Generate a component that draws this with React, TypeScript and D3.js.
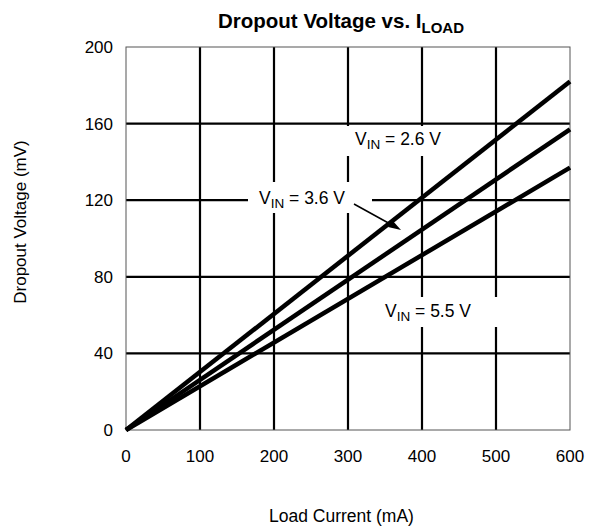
import React from "react";
import * as d3 from "d3";

const xTicks = [0, 100, 200, 300, 400, 500, 600];
const yTicks = [0, 40, 80, 120, 160, 200];
const loadCurrent = [0, 600];
const vin26 = [0, 182];
const vin36 = [0, 157];
const vin55 = [0, 137];

const W = 594, H = 527;
const L = 126, R = 570, T = 47, B = 430;
const FONT = "'Liberation Sans', Arial, Helvetica, sans-serif";

export default function App() {
  const x = d3.scaleLinear().domain([0, 600]).range([L, R]);
  const y = d3.scaleLinear().domain([0, 200]).range([B, T]);
  const line = d3.line<[number, number]>().x(d => x(d[0])).y(d => y(d[1]));
  const series = [vin26, vin36, vin55].map(v => loadCurrent.map((c, i) => [c, v[i]] as [number, number]));

  const sub = (main: string, rest: string, px: number, py: number) => (
    <text x={px} y={py} fontSize={17.5} fontFamily={FONT} fill="#000">
      {main}
      <tspan fontSize={13.5} dy={4}>IN</tspan>
      <tspan dy={-4}>{rest}</tspan>
    </text>
  );

  return (
    <svg width={W} height={H} style={{ position: "absolute", left: 0, top: 0 }}>
      <rect x={0} y={0} width={W} height={H} fill="#fff" />
      <text x={341} y={28} textAnchor="middle" fontSize={20.5} fontWeight="bold" fontFamily={FONT}>
        Dropout Voltage vs. I<tspan fontSize={15} dy={5}>LOAD</tspan>
      </text>
      {xTicks.slice(1, -1).map(t => (
        <line key={"gx" + t} x1={x(t)} x2={x(t)} y1={T} y2={B} stroke="#000" strokeWidth={2.2} />
      ))}
      {yTicks.slice(1, -1).map(t => (
        <line key={"gy" + t} x1={L} x2={R} y1={y(t)} y2={y(t)} stroke="#000" strokeWidth={2.2} />
      ))}
      <rect x={L} y={T} width={R - L} height={B - T} fill="none" stroke="#555" strokeWidth={1} />
      <rect x={341} y={126} width={110} height={30} fill="#fff" />
      <rect x={248} y={182} width={124} height={31} fill="#fff" />
      <rect x={379} y={297} width={120} height={30} fill="#fff" />
      {series.map((s, i) => (
        <path key={i} d={line(s) || ""} fill="none" stroke="#000" strokeWidth={4.5} strokeLinecap="butt" />
      ))}
      {sub("V", " = 2.6 V", 355, 145)}
      {sub("V", " = 3.6 V", 259, 204)}
      {sub("V", " = 5.5 V", 385, 317)}
      <line x1={354} y1={204} x2={392} y2={225} stroke="#000" strokeWidth={1.5} />
      <path d="M401,230 L388,227 L392,220 Z" fill="#000" />
      {xTicks.map(t => (
        <text key={"xt" + t} x={x(t)} y={462} textAnchor="middle" fontSize={17} fontFamily={FONT}>{t}</text>
      ))}
      {yTicks.map(t => (
        <text key={"yt" + t} x={113} y={y(t) + 6} textAnchor="end" fontSize={17} fontFamily={FONT}>{t}</text>
      ))}
      <text x={341.5} y={522} textAnchor="middle" fontSize={17.5} fontFamily={FONT}>Load Current (mA)</text>
      <text transform="translate(26,222) rotate(-90)" textAnchor="middle" fontSize={17} fontFamily={FONT}>Dropout Voltage (mV)</text>
    </svg>
  );
}
